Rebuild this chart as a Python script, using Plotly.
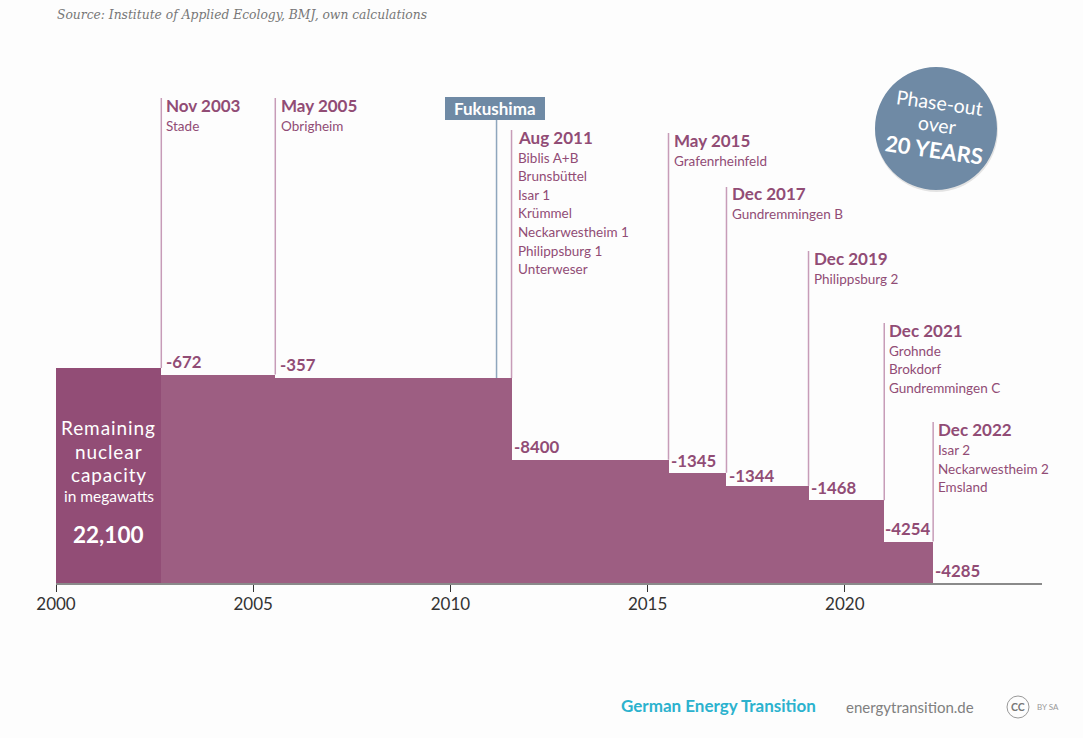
import plotly.graph_objects as go

# --- data ---
step_starts = [2000.0, 2002.67, 2005.56, 2011.55, 2015.53, 2017.0, 2019.08, 2021.0]
step_end = 2022.24
remaining = [22100, 21428, 21071, 12671, 11326, 9982, 8514, 4260]
reductions = ["-672", "-357", "-8400", "-1345", "-1344", "-1468", "-4254", "-4285"]
event_x = [2002.67, 2005.56, 2011.55, 2015.53, 2017.0, 2019.08, 2021.0, 2022.24]
event_dates = ["Nov 2003", "May 2005", "Aug 2011", "May 2015", "Dec 2017", "Dec 2019", "Dec 2021", "Dec 2022"]
event_plants = [
    ["Stade"],
    ["Obrigheim"],
    ["Biblis A+B", "Brunsbüttel", "Isar 1", "Krümmel", "Neckarwestheim 1", "Philippsburg 1", "Unterweser"],
    ["Grafenrheinfeld"],
    ["Gundremmingen B"],
    ["Philippsburg 2"],
    ["Grohnde", "Brokdorf", "Gundremmingen C"],
    ["Isar 2", "Neckarwestheim 2", "Emsland"],
]
fukushima_x = 2011.17
tick_years = [2000, 2005, 2010, 2015, 2020]
block_title = ["Remaining", "nuclear", "capacity"]

# --- layout constants (pixels of the 1083x738 page) ---
W, H = 1083, 738
L, R, B = 56, 1042, 583
PX_PER_UNIT = 215 / 22100
YMAX = B / PX_PER_UNIT
XMAX = 2000 + (R - L) / 39.44
event_top_px = [98, 98, 130, 133, 187, 251, 323, 422]
delta_px = [(166, 362), (280, 365), (514, 447), (671, 460), (729, 475), (811, 487), (885, 528), (935, 570)]
label_x_px = [166, 281, 518, 674, 732, 814, 889, 938]
date_y_px = [106, 106, 137, 140.5, 193, 258, 330, 429.5]
FONT = "Lato"
PLUM = "#914c75"
LINE = "#c79cb8"
BLUE = "#6f8aa5"


def px_y(p):
    return (B - p) / PX_PER_UNIT


def paper_x(p):
    return (p - L) / (R - L)


def paper_y(p):
    return (B - p) / B


def label(px, py, text, size, color=PLUM, bold=False, anchor="left", angle=0, family=FONT, italic=False):
    if bold:
        text = f"<b>{text}</b>"
    if italic:
        text = f"<i>{text}</i>"
    if anchor == "left":
        px -= 2  # annotation box padding
    return dict(xref="paper", yref="paper", x=paper_x(px), y=paper_y(py), text=text, showarrow=False,
                xanchor=anchor, yanchor="middle", textangle=angle,
                font=dict(family=family, size=size, color=color))


fig = go.Figure()

ends = step_starts[1:] + [step_end]
fig.add_trace(go.Bar(
    x=step_starts, y=remaining,
    width=[e - s for s, e in zip(step_starts, ends)], offset=0,
    marker=dict(color=["#924d76"] + ["#9d5e82"] * 7, line_width=0),
    hoverinfo="skip",
))

levels_before = remaining
for x, top, lvl in zip(event_x, event_top_px, levels_before):
    fig.add_trace(go.Scatter(x=[x, x], y=[lvl, px_y(top)], mode="lines",
                             line=dict(color=LINE, width=1.5), hoverinfo="skip"))
fig.add_trace(go.Scatter(x=[fukushima_x, fukushima_x], y=[remaining[2], px_y(120)], mode="lines",
                         line=dict(color="#8fa6bd", width=1.5), hoverinfo="skip"))

ann = []
for px, d, plants, yd in zip(label_x_px, event_dates, event_plants, date_y_px):
    ann.append(label(px, yd, d, 17, bold=True))
    for i, name in enumerate(plants):
        ann.append(label(px, yd + 20.5 + i * 18.6, name, 13.5))
for (px, py), txt in zip(delta_px, reductions):
    ann.append(label(px, py, txt, 16.8, bold=True))

for i, t in enumerate(block_title):
    ann.append(label(108.5, 428 + i * 23, f'<span style="letter-spacing:0.9px">{t}</span>', 19, "#ffffff", anchor="center"))
ann += [
    label(108.5, 496, "in megawatts", 15.5, "#ffffff", anchor="center"),
    label(108.5, 534, "22,100", 22.5, "#ffffff", bold=True, anchor="center"),
    label(495, 108, "Fukushima", 17, "#ffffff", bold=True, anchor="center"),
    label(939, 103, "Phase-out", 19.5, "#ffffff", anchor="center", angle=8),
    label(937, 125, "over", 19.5, "#ffffff", anchor="center", angle=8),
    label(934, 149, "20 YEARS", 22, "#ffffff", bold=True, anchor="center", angle=8),
    label(57, 15, "Source: Institute of Applied Ecology, BMJ, own calculations", 12.3, "#777777",
          family="DejaVu Serif", italic=True),
    label(621, 705, "German Energy Transition", 17, "#2bb2ce", bold=True),
    label(846, 707, "energytransition.de", 15, "#808080"),
    label(1018, 707, "CC", 10.5, "#777777", bold=True, anchor="center"),
    label(1037, 707, "BY SA", 8, "#999999"),
]

shapes = [
    dict(type="rect", xref="paper", yref="paper", x0=paper_x(445), x1=paper_x(545), y0=paper_y(120), y1=paper_y(97),
         fillcolor=BLUE, line_width=0),
    dict(type="circle", xref="paper", yref="paper", x0=paper_x(875), x1=paper_x(998), y0=paper_y(192), y1=paper_y(68),
         fillcolor="rgba(0,0,0,0.10)", line_width=0),
    dict(type="circle", xref="paper", yref="paper", x0=paper_x(875), x1=paper_x(997), y0=paper_y(190), y1=paper_y(67),
         fillcolor=BLUE, line_width=0),
    dict(type="circle", xref="paper", yref="paper", x0=paper_x(1007), x1=paper_x(1029), y0=paper_y(718), y1=paper_y(696),
         line=dict(color="#999999", width=1)),
]

fig.update_layout(
    width=W, height=H, margin=dict(l=L, r=W - R, t=0, b=H - B, pad=0),
    paper_bgcolor="#fdfdfd", plot_bgcolor="rgba(0,0,0,0)", showlegend=False,
    annotations=ann, shapes=shapes, bargap=0,
    xaxis=dict(range=[2000, XMAX], tickvals=tick_years, ticktext=[str(t) for t in tick_years],
               ticks="outside", ticklen=7, tickcolor="#333333", tickwidth=1, showgrid=False, zeroline=False,
               showline=True, linecolor="#8a8a8a", linewidth=2, ticklabelstandoff=-2,
               tickfont=dict(family=FONT, size=17, color="#333333")),
    yaxis=dict(range=[0, YMAX], visible=False, showgrid=False, zeroline=False),
)
fig.write_html("out.html", config={"displayModeBar": False},
               post_script="document.body.style.margin='0';document.body.style.overflow='hidden';")
